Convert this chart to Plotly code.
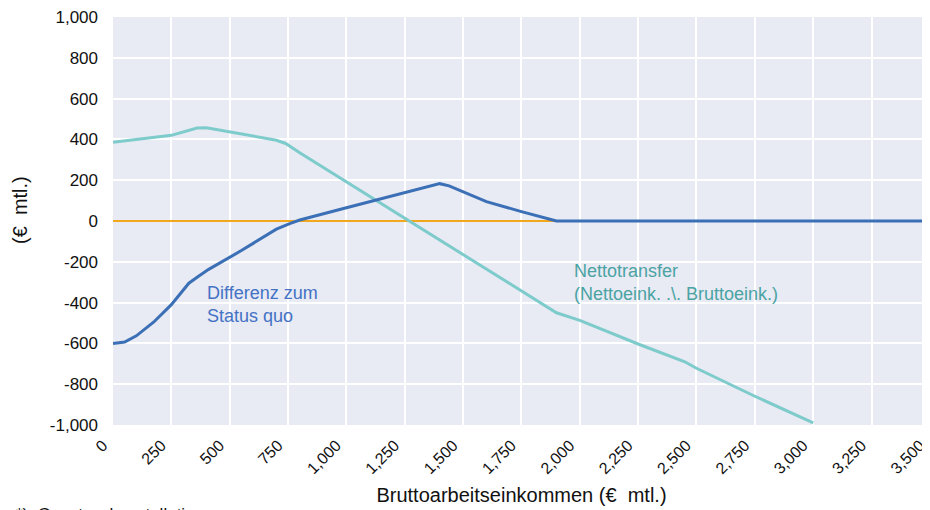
import plotly.graph_objects as go

# ---- data ----
x_tick_vals = [0, 250, 500, 750, 1000, 1250, 1500, 1750, 2000, 2250, 2500, 2750, 3000, 3250, 3500]
x_tick_text = ["0", "250", "500", "750", "1,000", "1,250", "1,500", "1,750", "2,000",
               "2,250", "2,500", "2,750", "3,000", "3,250", "3,500"]
y_tick_vals = [-1000, -800, -600, -400, -200, 0, 200, 400, 600, 800, 1000]
y_tick_text = ["-1,000", "-800", "-600", "-400", "-200", "0", "200", "400", "600", "800", "1,000"]

# Differenz zum Status quo
diff_x = [0, 50, 100, 175, 250, 325, 365, 410, 550, 700, 760, 800, 1000, 1200, 1400, 1440,
          1600, 1750, 1900, 2500, 3000, 3500]
diff_y = [-600, -593, -563, -495, -410, -305, -272, -237, -145, -40, -12, 5, 65, 125, 183, 172,
          95, 46, 0, 0, 0, 0]

# Nettotransfer (Nettoeink. ./. Bruttoeink.)
netto_x = [0, 250, 360, 400, 700, 740, 800, 1000, 1270, 1500, 1900, 2000, 2250, 2450, 2500,
           2750, 3000]
netto_y = [386, 420, 456, 457, 396, 380, 335, 192, 0, -162, -450, -487, -603, -690, -722,
           -859, -990]

# Nulllinie
zero_x = [0, 1900]
zero_y = [0, 0]

BLUE = "#3B6FB6"
TEAL = "#7ECBCB"
ORANGE = "#F2A81D"
FONT = "Liberation Sans, Arial, sans-serif"

fig = go.Figure()
fig.add_trace(go.Scatter(x=zero_x, y=zero_y, mode="lines",
                         line=dict(color=ORANGE, width=2), hoverinfo="skip"))
fig.add_trace(go.Scatter(x=netto_x, y=netto_y, mode="lines",
                         line=dict(color=TEAL, width=3)))
fig.add_trace(go.Scatter(x=diff_x, y=diff_y, mode="lines",
                         line=dict(color=BLUE, width=3)))

# the page body adds an 8 px offset, so the figure is 8 px smaller on each side
fig.update_layout(
    width=922, height=502,
    margin=dict(l=105, r=0, t=9, b=85, autoexpand=False),
    paper_bgcolor="white",
    plot_bgcolor="#E8EAF4",
    showlegend=False,
    font=dict(family=FONT, color="#111111"),
    xaxis=dict(
        range=[0, 3500.5], tickvals=x_tick_vals, ticktext=x_tick_text,
        tickangle=-45, tickfont=dict(size=16, color="#111111"),
        showgrid=True, gridcolor="white", gridwidth=2, zeroline=False,
        showline=False, ticks="", ticklabelstandoff=7, ticklabelshift=-10,
        ticklabeloverflow="allow", automargin=False,
        title=dict(text="Bruttoarbeitseinkommen (€\u00a0\u00a0mtl.)",
                   font=dict(size=20, color="#111111"), standoff=11),
    ),
    yaxis=dict(
        range=[-1000, 1000], tickvals=y_tick_vals, ticktext=y_tick_text,
        tickfont=dict(size=17, color="#111111"),
        showgrid=True, gridcolor="white", gridwidth=2, zeroline=False,
        showline=False, ticks="", ticklabelstandoff=14,
        ticklabeloverflow="allow", automargin=False,
    ),
    annotations=[
        dict(text="(€\u00a0\u00a0mtl.)", xref="paper", yref="paper",
             x=(20 - 113) / 817, y=(425 - 210) / 408, textangle=-90,
             showarrow=False, font=dict(size=20, color="#111111"),
             xanchor="center", yanchor="middle"),
        dict(text="Differenz zum<br>Status quo", xref="x", yref="y",
             x=395, y=-408, xanchor="left", yanchor="middle", align="left",
             showarrow=False, font=dict(size=18, color="#4472C4")),
        dict(text="Nettotransfer<br>(Nettoeink. .\\. Bruttoeink.)", xref="x", yref="y",
             x=1965, y=-301, xanchor="left", yanchor="middle", align="left",
             showarrow=False, font=dict(size=18, color="#4BA3A3")),
        dict(text="*)\u00a0\u00a0Gesetzeskonstellation", xref="paper", yref="paper",
             x=(14 - 113) / 817, y=-(503 - 425) / 408, xanchor="left", yanchor="top",
             showarrow=False, font=dict(size=17, color="#111111")),
    ],
)

fig.write_html("out.html")
